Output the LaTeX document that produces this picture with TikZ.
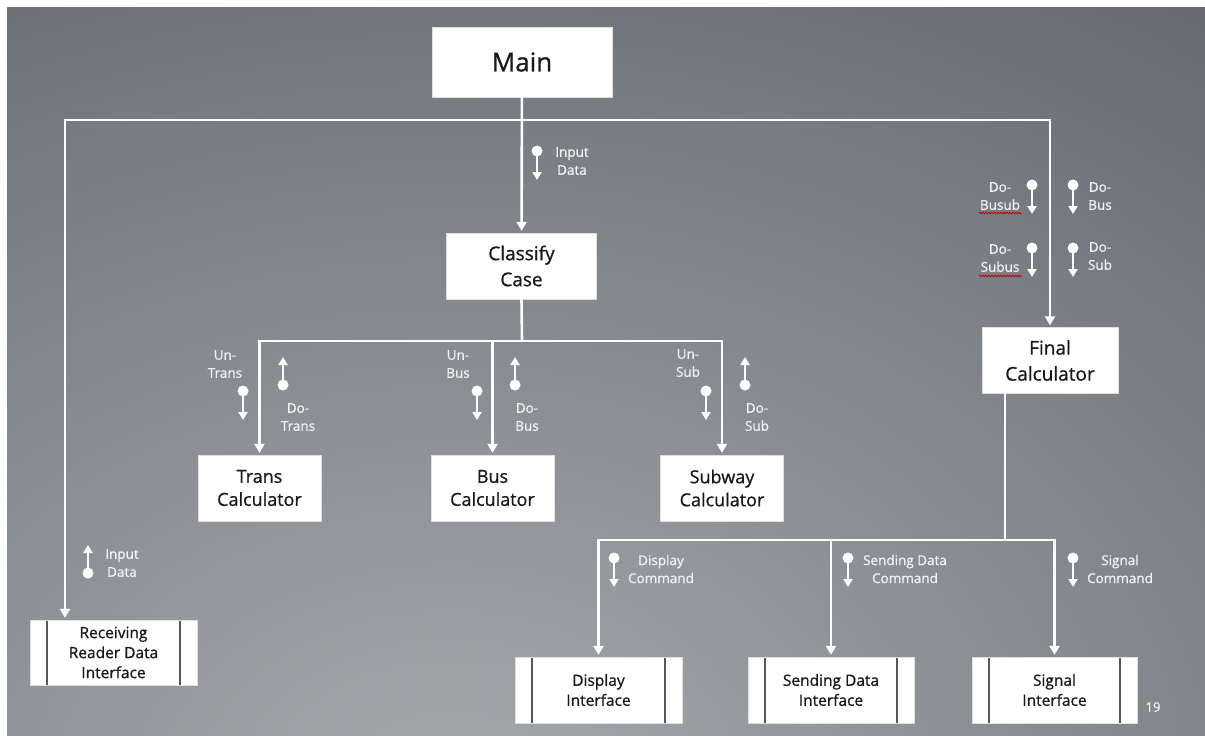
\documentclass[tikz,border=0pt]{standalone}
\usepackage{fontspec}
\setmainfont{Open Sans}[FakeBold=0.8]
\usetikzlibrary{arrows.meta,calc,decorations.pathmorphing}
\definecolor{bgdark}{RGB}{88,94,101}
\definecolor{bglight}{RGB}{166,169,172}
\definecolor{rim}{RGB}{86,86,86}
\definecolor{lbltext}{RGB}{242,242,242}
\newcommand{\mainsz}{\fontsize{26}{30}\selectfont}
\newcommand{\boxsz}{\fontsize{19}{26}\selectfont}
\newcommand{\calcsz}{\fontsize{18}{23}\selectfont}
\newcommand{\ifsz}{\fontsize{15.5}{20}\selectfont}
\newcommand{\lblsz}{\fontsize{13.5}{18}\selectfont}
\newcommand{\pindown}[2]{%
  \fill[white] (#1,#2) circle (5.5pt);
  \draw[sig] (#1,#2) -- ++(0,29);}
\newcommand{\pinup}[2]{%
  \fill[white] (#1,#2) circle (5.5pt);
  \draw[sig] (#1,#2) -- ++(0,-28);}

\begin{document}
\begin{tikzpicture}[x=1pt, y=-1pt,
  modbox/.style={fill=white, draw=gray!25, inner sep=0pt, align=center, text=black!90},
  ifbox/.style={modbox, font=\ifsz, minimum width=166pt, minimum height=65pt,
    path picture={
      \draw[rim, line width=1.6pt] ([xshift=17pt]path picture bounding box.north west) -- ([xshift=17pt]path picture bounding box.south west);
      \draw[rim, line width=1.6pt] ([xshift=-17pt]path picture bounding box.north east) -- ([xshift=-17pt]path picture bounding box.south east);}},
  calcbox/.style={modbox, font=\calcsz, minimum width=123pt, minimum height=66pt},
  wire/.style={white, line width=2.6pt, shorten >=2pt, shorten <=2pt},
  tip/.tip={Triangle[width=10pt, length=9pt]},
  sig/.style={white, line width=2.4pt, -{Triangle[width=9pt, length=8pt]}},
  lbl/.style={text=lbltext, font=\lblsz, align=center, inner sep=0pt},
  squiggle/.style={red!80!black, line width=0.8pt, decorate,
    decoration={snake, amplitude=0.8pt, segment length=3pt}}]

\useasboundingbox (0,0) rectangle (1205,736);
\fill[white] (0,0) rectangle (1205,736);
\begin{scope}
\clip (7,7) rectangle (1205,736);
\shade[inner color=bglight, outer color=bgdark] (450,800) ellipse (1600pt and 1180pt);
\end{scope}

% modules
\node[modbox, font=\mainsz, minimum width=180pt, minimum height=70pt] (main) at (522,62) {Main};
\node[modbox, font=\boxsz, minimum width=150pt, minimum height=66pt] (classify) at (521.5,266) {Classify\\Case};
\node[modbox, font=\boxsz, minimum width=136pt, minimum height=66pt] (final) at (1050,360.5) {Final\\Calculator};
\node[calcbox] (trans) at (259.5,488) {Trans\\Calculator};
\node[calcbox] (bus) at (492.5,488) {Bus\\Calculator};
\node[calcbox] (subway) at (722,488) {Subway\\Calculator};

% interfaces
\node[ifbox, minimum width=167pt] (receiving) at (113.5,652.5) {Receiving\\Reader Data\\Interface};
\node[ifbox, minimum width=167pt, minimum height=66pt] (display) at (598.5,690) {Display\\Interface};
\node[ifbox, minimum height=66pt] (sending) at (831,690) {Sending Data\\Interface};
\node[ifbox, minimum width=165pt, minimum height=66pt] (signal) at (1054.5,690) {Signal\\Interface};

\coordinate (tl) at (65,120);
\coordinate (tr) at (final.north |- tl);
\coordinate (cb) at (522,341);
\coordinate (fb) at (1005,540);

\draw[wire, tip-tip] (tl |- receiving.north) -- (tl) -- (tr) -- (final.north);
\draw[wire, shorten <=0pt, -tip] (main) -- (classify);
\draw[wire, shorten >=0pt, shorten <=0pt] (classify.south) -- (cb);
\draw[wire, tip-tip] (trans.north) -- (trans.north |- cb) -- (subway.north |- cb) -- (subway.north);
\draw[wire, shorten <=0pt, -tip] (bus.north |- cb) -- (bus.north);
\draw[wire, shorten >=0pt, shorten <=0pt] (fb |- final.south) -- (fb);
\draw[wire, tip-tip] (display.north) -- (display.north |- fb) -- (signal.north |- fb) -- (signal.north);
\draw[wire, shorten <=0pt, -tip] (sending.north |- fb) -- (sending.north);

% data flags
\node[lbl] (inmain) at (572,161) {Input\\Data};
\pindown{537}{151}
\node[lbl] (dobusub) at (1000,196) {Do-\\Busub};
\pindown{1032}{185}
\node[lbl] (dobus) at (1100,196) {Do-\\Bus};
\pindown{1073}{185}
\node[lbl] (dosubus) at (1000,258) {Do-\\Subus};
\pindown{1032}{248}
\node[lbl] (dosub) at (1100,256) {Do-\\Sub};
\pindown{1073}{248}
\draw[squiggle] (979,213) -- (1022,213);
\draw[squiggle] (979,276) -- (1022,276);

\node[lbl] (untrans) at (225,364) {Un-\\Trans};
\pindown{243}{391}
\node[lbl] (dotrans) at (298,417) {Do-\\Trans};
\pinup{283}{385}
\node[lbl] (unbus) at (458,364) {Un-\\Bus};
\pindown{477}{391}
\node[lbl] (dobuscalc) at (527,417) {Do-\\Bus};
\pinup{515}{385}
\node[lbl] (unsub) at (688,363) {Un-\\Sub};
\pindown{706}{391}
\node[lbl] (dosubcalc) at (757,417) {Do-\\Sub};
\pinup{745}{385}

\node[lbl] (dispcmd) at (661,569) {Display\\Command};
\pindown{614}{558}
\node[lbl] (sendcmd) at (905,569) {Sending Data\\Command};
\pindown{848}{558}
\node[lbl] (sigcmd) at (1120,569) {Signal\\Command};
\pindown{1073}{558}
\node[lbl] (inrecv) at (122,563) {Input\\Data};
\pinup{88}{573}

\node[lbl, font=\fontsize{13}{15}\selectfont] (pageno) at (1153,707) {19};
\end{tikzpicture}
\end{document}
